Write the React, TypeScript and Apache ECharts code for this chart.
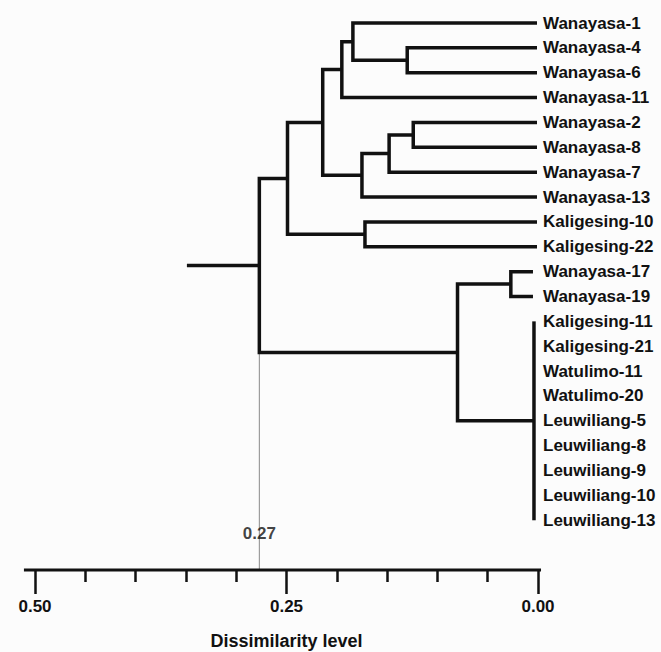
import React, { useEffect, useRef } from "react";
import * as echarts from "echarts";

// Leaf labels, top to bottom
const leaves = [
  "Wanayasa-1", "Wanayasa-4", "Wanayasa-6", "Wanayasa-11", "Wanayasa-2",
  "Wanayasa-8", "Wanayasa-7", "Wanayasa-13", "Kaligesing-10", "Kaligesing-22",
  "Wanayasa-17", "Wanayasa-19", "Kaligesing-11", "Kaligesing-21", "Watulimo-11",
  "Watulimo-20", "Leuwiliang-5", "Leuwiliang-8", "Leuwiliang-9", "Leuwiliang-10",
  "Leuwiliang-13",
];
// Dissimilarity at which each leaf branch ends
const leafTip = [
  0.001, 0.001, 0.001, 0.001, 0.001, 0.001, 0.001, 0.001, 0.001, 0.001,
  0.005, 0.005,
  0.004, 0.004, 0.004, 0.004, 0.004, 0.004, 0.004, 0.004, 0.004,
];
// Merges: children (leaf index 0..20, node index 21+) and dissimilarity level
const mergeChildren: number[][] = [
  [1, 2], [0, 21], [22, 3], [4, 5], [24, 6], [25, 7], [23, 26], [8, 9],
  [27, 28], [10, 11], [12, 13, 14, 15, 16, 17, 18, 19, 20], [30, 31], [29, 32],
];
const mergeHeights = [
  0.130, 0.184, 0.195, 0.124, 0.148, 0.175, 0.214, 0.172, 0.249, 0.027, 0.004, 0.080, 0.277,
];
const rootStubEnd = 0.349;
const cutLabel = "0.27";
const axisTicks = [0, 0.25, 0.5];
const axisExtent = [-0.003, 0.511];

const FONT = "'Liberation Sans', Arial, sans-serif";

export default function App() {
  const ref = useRef<HTMLDivElement>(null);
  useEffect(() => {
    if (!ref.current) return;
    const chart = echarts.init(ref.current, undefined, { renderer: "svg" });

    const nodeX: number[] = [...leafTip];
    const nodeY: number[] = leaves.map((_, i) => i);
    const polylines: number[][][] = [];
    mergeChildren.forEach((ch, k) => {
      const h = mergeHeights[k];
      const ys = ch.map((c) => nodeY[c]);
      const first = ch[0];
      const last = ch[ch.length - 1];
      polylines.push([
        [nodeX[first], nodeY[first]],
        [h, nodeY[first]],
        [h, nodeY[last]],
        [nodeX[last], nodeY[last]],
      ]);
      ch.slice(1, -1).forEach((c) => {
        polylines.push([[nodeX[c], nodeY[c]], [h, nodeY[c]]]);
      });
      nodeX.push(h);
      nodeY.push(ys.reduce((a, b) => a + b, 0) / ys.length);
    });
    const root = nodeX.length - 1;
    polylines.push([[nodeX[root], nodeY[root]], [rootStubEnd, nodeY[root]]]);

    const rootCh = mergeChildren[mergeChildren.length - 1];
    const rootBottomY = Math.max(...rootCh.map((c) => nodeY[c]));
    const rootH = mergeHeights[mergeHeights.length - 1];
    const yMax = 22;

    chart.setOption({
      animation: false,
      backgroundColor: "#fcfcfc",
      grid: { left: 35, right: 123, top: 23, bottom: 82, containLabel: false, outerBoundsMode: "none" },
      xAxis: {
        type: "value",
        position: "bottom",
        min: 0,
        max: 0.5,
        interval: 0.25,
        inverse: true,
        axisLine: { show: false, onZero: false },
        axisTick: { show: true, length: 24, lineStyle: { color: "#111", width: 2.5 } },
        minorTick: { show: true, splitNumber: 5, length: 12, lineStyle: { color: "#111", width: 2.5 } },
        splitLine: { show: false },
        minorSplitLine: { show: false },
        axisLabel: {
          margin: 28,
          fontSize: 17,
          fontWeight: "bold",
          fontFamily: FONT,
          color: "#111",
          formatter: (v: number) => (axisTicks.includes(v) ? v.toFixed(2) : ""),
        },
        name: "Dissimilarity level",
        nameLocation: "middle",
        nameGap: 62,
        nameTextStyle: { fontSize: 18, fontWeight: "bold", fontFamily: FONT, color: "#111" },
      },
      yAxis: {
        type: "value",
        min: 0,
        max: yMax,
        interval: 1,
        inverse: true,
        position: "right",
        axisLine: { show: false, onZero: false },
        axisTick: { show: false },
        splitLine: { show: false },
        axisLabel: {
          margin: 5,
          fontSize: 17,
          fontWeight: "bold",
          fontFamily: FONT,
          color: "#111",
          formatter: (v: number) => leaves[Math.round(v)] ?? "",
        },
      },
      series: [
        {
          type: "lines",
          coordinateSystem: "cartesian2d",
          polyline: true,
          clip: false,
          silent: true,
          lineStyle: { color: "#8a8a8a", width: 1, opacity: 1 },
          data: [{ coords: [[rootH, rootBottomY], [rootH, yMax]] }],
        },
        {
          type: "lines",
          coordinateSystem: "cartesian2d",
          polyline: true,
          clip: false,
          silent: true,
          lineStyle: { color: "#111", width: 3, opacity: 1 },
          data: [{ coords: [[axisExtent[1], yMax], [axisExtent[0], yMax]] }],
        },
        {
          type: "lines",
          coordinateSystem: "cartesian2d",
          polyline: true,
          clip: false,
          silent: true,
          lineStyle: { color: "#111", width: 3.5, opacity: 1, join: "miter", cap: "butt" },
          data: polylines.map((c) => ({ coords: c })),
        },
        {
          type: "scatter",
          symbolSize: 0,
          silent: true,
          data: [[rootH, yMax]],
          label: {
            show: true,
            position: "top",
            distance: 28,
            formatter: cutLabel,
            fontSize: 17,
            fontWeight: "bold",
            fontFamily: FONT,
            color: "#111",
          },
        },
      ],
    });
    return () => chart.dispose();
  }, []);
  return (
    <div
      ref={ref}
      style={{ position: "absolute", left: 0, top: 0, width: 661, height: 652 }}
    />
  );
}
